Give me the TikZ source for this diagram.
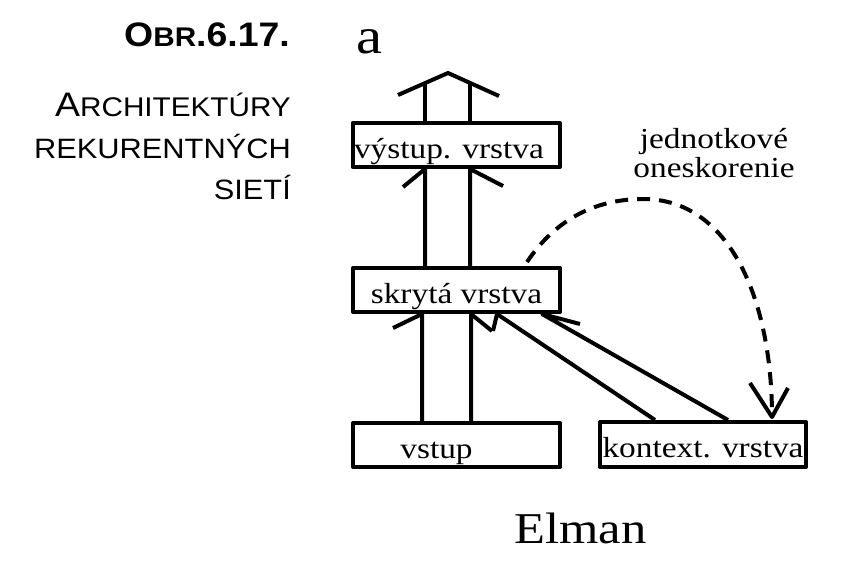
\documentclass[tikz,border=0pt]{standalone}
\usepackage{fontspec}
\setmainfont{Liberation Serif}[FakeStretch=1.15]
\newfontfamily\capfont{Liberation Sans}[FakeStretch=1.1]
\usetikzlibrary{calc}
\begin{document}
\begin{tikzpicture}[x=1pt,y=-1pt,line join=round,
  box/.style={draw,line width=4pt,minimum width=207pt,minimum height=44pt,inner sep=0pt,
    text height=26pt,text depth=0pt,font=\fontsize{29}{29}\selectfont},
  conn/.style={line width=4pt},
  dashconn/.style={line width=4pt,dash pattern=on 13pt off 9pt},
  txt/.style={inner sep=0pt}]
\useasboundingbox (0,0) rectangle (848,578);

% side caption
\node[txt,anchor=base east,font=\capfont\bfseries] (obr) at (290,47)
  {\fontsize{34}{34}\selectfont O\fontsize{27}{27}\selectfont BR\fontsize{34}{34}\selectfont .6.17.};
\node[txt,anchor=base east,font=\capfont] (t1) at (291,116)
  {\fontsize{34}{34}\selectfont A\fontsize{27}{27}\selectfont RCHITEKTÚRY};
\node[txt,anchor=base east,font=\capfont\fontsize{28}{28}\selectfont] (t2) at (291,158) {REKURENTNÝCH};
\node[txt,anchor=base east,font=\capfont\fontsize{28}{28}\selectfont] (t3) at (291,199) {SIETÍ};

% titles
\node[txt,anchor=base west,font=\fontsize{51}{51}\selectfont] (ta) at (356,53) {a};
\node[txt,anchor=base west,font=\fontsize{44}{44}\selectfont] (elman) at (514,543) {Elman};

% boxes
\node[box] (out) at (456,145) {výstup. vrstva\rule{14pt}{0pt}};
\node[box] (hid) at (456.5,290) {skrytá vrstva};
\node[box] (inp) at (456.5,445) {vstup\rule{40pt}{0pt}};
\node[box,minimum width=206pt,minimum height=45pt] (ctx) at (703,444.5) {kontext. vrstva};

% delay label
\node[txt,anchor=base,font=\fontsize{29}{29}\selectfont] (lbl1) at (714,148) {jednotkové};
\node[txt,anchor=base,font=\fontsize{29}{29}\selectfont] (lbl2) at (714,177) {oneskorenie};

% x positions
\coordinate (xa) at (422,0);
\coordinate (xb) at (471,0);
\coordinate (xc) at (425,0);
\coordinate (xd) at (470,0);
\coordinate (xe) at (497,0);
\coordinate (xf) at (655,0);
\coordinate (xg) at (728,0);
\coordinate (xh) at (542,0);
\coordinate (xt) at (772,0);

% input -> hidden
\draw[conn] (inp.north -| xa) -- (hid.south -| xa) -- ++(-29,14);
\draw[conn] (inp.north -| xb) -- (hid.south -| xb) -- ++(21,17);

% context -> hidden
\draw[conn] (ctx.north -| xf) -- (hid.south -| xe) -- ++(-4,17);
\draw[conn] (ctx.north -| xg) -- (hid.south -| xh) -- ++(38,10);

% hidden -> output
\draw[conn] (hid.north -| xc) -- (out.south -| xc) -- ++(-22,18);
\draw[conn] (hid.north -| xd) -- (out.south -| xd) -- ++(33,17);

% output arrows (roof)
\coordinate (r1) at (398,95);
\coordinate (r2) at (448,73);
\coordinate (r3) at (499,96);
\coordinate (ra) at (425,83);
\coordinate (rb) at (470,83);
\draw[conn] (out.north -| xc) -- (ra);
\draw[conn] (out.north -| xd) -- (rb);
\draw[conn] (r1) -- (r2) -- (r3);

% unit delay (dashed)
\coordinate (ds) at (527,262);
\coordinate (dt) at ($(ctx.north -| xt)+(0,-3)$);
\draw[dashconn] (ds) .. controls (555,220) and (595,199) .. (643,199)
  .. controls (730,199) and (772,300) .. (dt);
\draw[conn] ($(dt)+(-22,-34)$) -- (dt) -- ++(16,-29);
\end{tikzpicture}
\end{document}
